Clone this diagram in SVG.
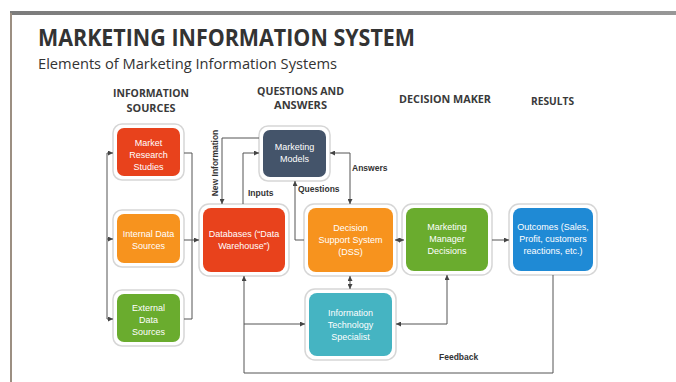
<svg xmlns="http://www.w3.org/2000/svg" width="676" height="382" viewBox="0 0 676 382">
  <defs>
    <linearGradient id="topBar" x1="0" y1="0" x2="1" y2="0">
      <stop offset="0" stop-color="#7c7c7c"/>
      <stop offset="1" stop-color="#979797"/>
    </linearGradient>
    <marker id="arr" viewBox="0 0 6 6" refX="6" refY="3" markerWidth="5" markerHeight="5" orient="auto-start-reverse" markerUnits="userSpaceOnUse">
      <path d="M0,0 L6,3 L0,6 Z" fill="#444"/>
    </marker>
  </defs>
  <style>
    .title { font-family: "Open Sans", "Liberation Sans", sans-serif; font-weight: bold; fill: #333; }
    .sub { font-family: "Open Sans", "Liberation Sans", sans-serif; fill: #333; }
    .head { font-family: "Open Sans", "Liberation Sans", sans-serif; font-weight: bold; font-size: 10.5px; fill: #3a3a3a; text-anchor: middle; }
    .outer { fill: #fff; stroke: #d6d6d6; stroke-width: 1.5; }
    .node text { font-family: "Liberation Sans", "Open Sans", sans-serif; font-size: 9px; fill: #fff; text-anchor: middle; }
    .lbl { font-family: "Liberation Sans", "Open Sans", sans-serif; font-weight: bold; font-size: 8.5px; fill: #333; }
    #connectors path { fill: none; stroke: #555; stroke-width: 1; }
  </style>

  <rect width="676" height="382" fill="#fff"/>
  <!-- slide frame -->
  <rect x="10" y="11" width="666" height="4" fill="url(#topBar)"/>
  <rect x="10" y="13" width="2" height="369" fill="#9c8f82"/>

  <!-- headings -->
  <text class="title" x="38" y="46" font-size="22.5" textLength="377" lengthAdjust="spacingAndGlyphs">MARKETING INFORMATION SYSTEM</text>
  <text class="sub" x="38" y="69" font-size="14.5" textLength="299" lengthAdjust="spacingAndGlyphs">Elements of Marketing Information Systems</text>

  <text class="head" x="151" y="97" textLength="76" lengthAdjust="spacingAndGlyphs">INFORMATION</text>
  <text class="head" x="151" y="112" textLength="49" lengthAdjust="spacingAndGlyphs">SOURCES</text>
  <text class="head" x="300.5" y="95" textLength="87" lengthAdjust="spacingAndGlyphs">QUESTIONS AND</text>
  <text class="head" x="300.5" y="109" textLength="53" lengthAdjust="spacingAndGlyphs">ANSWERS</text>
  <text class="head" x="445" y="103" textLength="92" lengthAdjust="spacingAndGlyphs">DECISION MAKER</text>
  <text class="head" x="552.5" y="105" textLength="43" lengthAdjust="spacingAndGlyphs">RESULTS</text>

  <!-- connector labels -->
  <text class="lbl" transform="translate(218,163) rotate(-90)" text-anchor="middle">New Information</text>
  <text class="lbl" x="248" y="196">Inputs</text>
  <text class="lbl" x="298" y="192">Questions</text>
  <text class="lbl" x="352" y="171">Answers</text>
  <text class="lbl" x="439" y="360">Feedback</text>

  <!-- nodes -->
  <g id="market-research" class="node">
    <rect class="outer" x="113" y="124" width="71" height="56" rx="9"/>
    <rect x="117" y="128" width="63" height="48" rx="7" fill="#e8421c"/>
    <text x="148.5" y="146">Market</text>
    <text x="148.5" y="158">Research</text>
    <text x="148.5" y="170">Studies</text>
  </g>
  <g id="internal-data" class="node">
    <rect class="outer" x="113" y="210" width="71" height="57" rx="9"/>
    <rect x="117" y="214" width="63" height="49" rx="7" fill="#f7931e"/>
    <text x="148.5" y="237">Internal Data</text>
    <text x="148.5" y="249">Sources</text>
  </g>
  <g id="external-data" class="node">
    <rect class="outer" x="113" y="290" width="71" height="56" rx="9"/>
    <rect x="117" y="294" width="63" height="48" rx="7" fill="#6aac2e"/>
    <text x="148.5" y="311">External</text>
    <text x="148.5" y="323">Data</text>
    <text x="148.5" y="335">Sources</text>
  </g>
  <g id="databases" class="node">
    <rect class="outer" x="199" y="204" width="90" height="72" rx="10"/>
    <rect x="203" y="208" width="82" height="64" rx="8" fill="#e8421c"/>
    <text x="244" y="237">Databases (“Data</text>
    <text x="244" y="249">Warehouse”)</text>
  </g>
  <g id="marketing-models" class="node">
    <rect class="outer" x="259" y="126" width="71" height="55" rx="9"/>
    <rect x="263" y="130" width="63" height="47" rx="7" fill="#44546a"/>
    <text x="294.5" y="150">Marketing</text>
    <text x="294.5" y="162">Models</text>
  </g>
  <g id="dss" class="node">
    <rect class="outer" x="304" y="204" width="93" height="72" rx="10"/>
    <rect x="308" y="208" width="85" height="64" rx="8" fill="#f7931e"/>
    <text x="350.5" y="231">Decision</text>
    <text x="350.5" y="243">Support System</text>
    <text x="350.5" y="255">(DSS)</text>
  </g>
  <g id="manager-decisions" class="node">
    <rect class="outer" x="402" y="204" width="90" height="71" rx="10"/>
    <rect x="406" y="208" width="82" height="63" rx="8" fill="#6aac2e"/>
    <text x="447" y="230">Marketing</text>
    <text x="447" y="242">Manager</text>
    <text x="447" y="254">Decisions</text>
  </g>
  <g id="outcomes" class="node">
    <rect class="outer" x="509" y="204" width="88" height="71" rx="10"/>
    <rect x="513" y="208" width="80" height="63" rx="8" fill="#1f8ad5"/>
    <text x="553" y="230">Outcomes (Sales,</text>
    <text x="553" y="242">Profit, customers</text>
    <text x="553" y="254">reactions, etc.)</text>
  </g>
  <g id="it-specialist" class="node">
    <rect class="outer" x="305" y="289" width="91" height="71" rx="10"/>
    <rect x="309" y="293" width="83" height="63" rx="8" fill="#45b4c2"/>
    <text x="350.5" y="316">Information</text>
    <text x="350.5" y="328">Technology</text>
    <text x="350.5" y="340">Specialist</text>
  </g>

  <!-- connectors, drawn over the node frames so the arrowheads stay visible -->
  <g id="connectors">
    <path d="M107,153 V319"/>
    <path d="M107,153 H113" marker-end="url(#arr)"/>
    <path d="M107,239 H113" marker-end="url(#arr)"/>
    <path d="M107,319 H113" marker-end="url(#arr)"/>
    <path d="M184,153 H192 V319 H184"/>
    <path d="M184,240 H199" marker-end="url(#arr)"/>
    <path d="M259,138 H222 V204" marker-end="url(#arr)"/>
    <path d="M243,204 V153 H259" marker-end="url(#arr)"/>
    <path d="M304,240 H295 V181" marker-end="url(#arr)"/>
    <path d="M330,153 H350 V204" marker-start="url(#arr)" marker-end="url(#arr)"/>
    <path d="M395,240 H404" marker-start="url(#arr)" marker-end="url(#arr)"/>
    <path d="M492,240 H509" marker-end="url(#arr)"/>
    <path d="M350,276 V289" marker-start="url(#arr)" marker-end="url(#arr)"/>
    <path d="M244,276 V324 H305" marker-start="url(#arr)" marker-end="url(#arr)"/>
    <path d="M396,324 H447 V275" marker-start="url(#arr)" marker-end="url(#arr)"/>
    <path d="M553,275 V373 H244 V324"/>
  </g>
</svg>
